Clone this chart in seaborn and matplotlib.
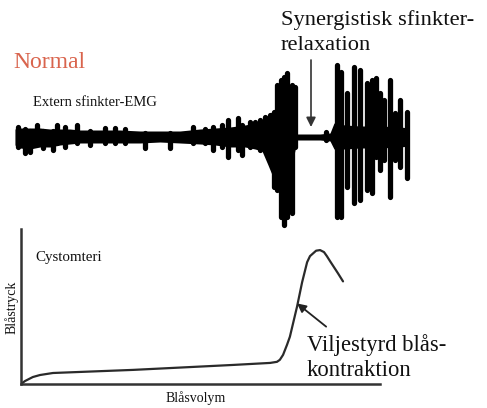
import matplotlib
matplotlib.use("Agg")
import matplotlib.pyplot as plt
import numpy as np
import pandas as pd
import seaborn as sns

sns.set_theme(style="white")
plt.rcParams["font.family"] = ["Liberation Serif", "DejaVu Serif"]

# External sphincter EMG: body of the trace (envelope knots, amplitude up / down)
band_t = [15, 20, 30, 40, 50, 60, 70, 80, 100, 120, 140, 160, 180, 200, 215, 230,
          245, 255, 262, 268, 275, 282, 290, 294, 297, 320, 330, 334, 345, 360, 380, 400, 409]
band_hi = [8, 9, 9, 9, 8, 8, 8, 7, 7, 7, 6, 6, 6, 8, 9, 10,
           12, 14, 17, 22, 28, 32, 26, 18, 3, 3, 4, 14, 12, 11, 11, 10, 9]
band_lo = [8, 11, 12, 10, 10, 8, 7, 6, 6, 6, 6, 5, 6, 7, 8, 10,
           10, 12, 14, 28, 45, 50, 38, 18, 3, 3, 4, 12, 12, 11, 11, 10, 9]

# Individual EMG spikes (sample position, excursion up, excursion down)
spike_t = [18, 25, 30, 37, 43, 53, 57, 65, 77, 90, 105, 115, 125, 145, 170, 193,
           205, 213, 222, 228, 238, 242, 250, 255, 260,
           265, 270, 274, 277, 281, 284, 287, 290, 292, 295,
           326,
           337, 341, 347, 354, 360, 367, 372, 376, 380, 384, 390, 395, 400, 407]
spike_up = [10, 8, 6, 12, 6, 6, 12, 10, 12, 6, 9, 9, 8, 4, 4, 10,
            8, 10, 12, 17, 19, 12, 15, 15, 17,
            20, 22, 25, 52, 57, 60, 64, 45, 52, 50,
            5,
            72, 65, 44, 70, 67, 54, 57, 59, 44, 37, 57, 24, 37, 25]
spike_dn = [10, 16, 15, 6, 11, 13, 6, 10, 6, 8, 6, 6, 6, 11, 11, 6,
            6, 13, 10, 20, 13, 18, 10, 8, 13,
            10, 23, 50, 53, 80, 88, 80, 60, 76, 10,
            3,
            80, 80, 50, 66, 63, 53, 56, 20, 33, 23, 60, 23, 30, 41]

# Cystometry: bladder volume (%) vs bladder pressure (%)
volume = [0, 1.1, 2.2, 3.3, 5.3, 8.9, 31.2, 59.1, 69.4, 71.3, 72.1, 73.0, 74.1,
          74.9, 76.9, 78.3, 79.7, 80.5, 82.2, 83.3, 84.4, 85.2, 86.1, 88.3, 89.7]
pressure = [0, 1.9, 3.2, 4.5, 5.8, 7.1, 9.1, 12.3, 13.6, 14.3, 15.6, 18.8, 25.3,
            30.5, 50, 65.6, 78.6, 82.5, 86.0, 86.4, 85.1, 82.5, 79.2, 71.4, 66.2]

W, H = 487, 408
fig = plt.figure(figsize=(W / 100, H / 100), dpi=100)
fig.patch.set_facecolor("white")


def fx(px):
    return px / W


def fy(py):
    return 1 - py / H


# ---- EMG panel ----
ax_emg = fig.add_axes([fx(0), fy(232), fx(W), (232 - 55) / H])
ax_emg.set_xlim(0, W)
ax_emg.set_ylim(-(232 - 137), 137 - 55)
ax_emg.axis("off")
ax_emg.fill_between(band_t, band_hi, [-v for v in band_lo], color="black", lw=0)
ax_emg.vlines(spike_t, [-v for v in spike_dn], spike_up, color="black", lw=3.8,
              capstyle="round")
ax_emg.annotate("", xy=(311, 137 - 127), xytext=(311, 137 - 60),
                arrowprops=dict(arrowstyle="-|>", color="#333333", lw=1.2,
                                mutation_scale=14, shrinkA=0, shrinkB=0))

# ---- Cystometry panel ----
ax_cys = fig.add_axes([fx(21), fy(384), (380 - 21) / W, (384 - 229) / H])
df = pd.DataFrame({"Blåsvolym": volume, "Blåstryck": pressure})
sns.lineplot(data=df, x="Blåsvolym", y="Blåstryck", ax=ax_cys, color="#2a2a2a",
             lw=1.6, sort=False, estimator=None)
ax_cys.set_xlim(0, 100)
ax_cys.set_ylim(0, 100)
ax_cys.set_xticks([])
ax_cys.set_yticks([])
ax_cys.set_xlabel("")
ax_cys.set_ylabel("")
for s in ["top", "right"]:
    ax_cys.spines[s].set_visible(False)
for s in ["left", "bottom"]:
    ax_cys.spines[s].set_color("#333333")
    ax_cys.spines[s].set_linewidth(1.8)
ax_cys.set_facecolor("none")
ax_cys.annotate("", xy=(76.9, 52), xytext=(85, 37),
                arrowprops=dict(arrowstyle="-|>", color="#222222", lw=1.3,
                                mutation_scale=13, shrinkA=0, shrinkB=0))

# ---- Text ----
fig.text(fx(13), fy(62), "Normal", color="#d9644d", fontsize=17, va="center", ha="left")
fig.text(fx(33), fy(102), "Extern sfinkter-EMG", color="#111111", fontsize=10.5,
         va="center", ha="left")
fig.text(fx(281), fy(20), "Synergistisk sfinkter-", color="#111111", fontsize=16.2,
         va="center", ha="left")
fig.text(fx(281), fy(45), "relaxation", color="#111111", fontsize=16.2,
         va="center", ha="left")
fig.text(fx(35), fy(257), "Cystomteri", color="#111111", fontsize=10.8,
         va="center", ha="left")
fig.text(fx(12), fy(307), "Blåstryck", color="#111111", fontsize=10,
         va="center", ha="center", rotation=90)
fig.text(fx(196), fy(398), "Blåsvolym", color="#111111", fontsize=10,
         va="center", ha="center")
fig.text(fx(307), fy(345), "Viljestyrd blås-", color="#111111", fontsize=16.3,
         va="center", ha="left")
fig.text(fx(307), fy(371), "kontraktion", color="#111111", fontsize=16.3,
         va="center", ha="left")

fig.savefig("out.png", dpi=100, facecolor="white")
